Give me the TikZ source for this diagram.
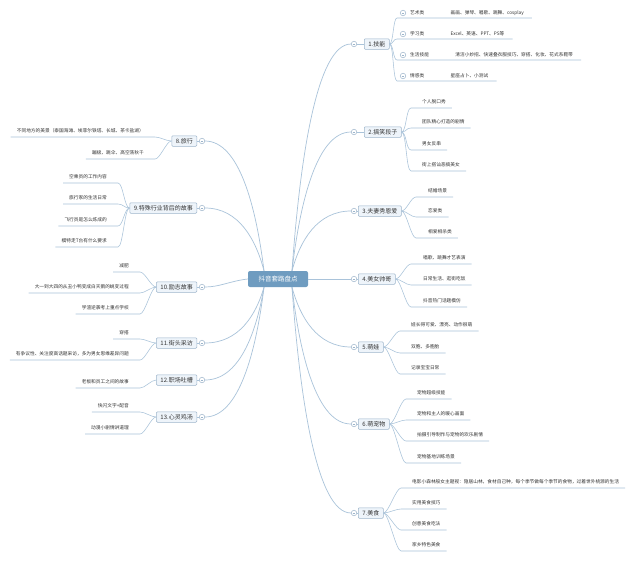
\documentclass[tikz,border=0pt]{standalone}
\usepackage{fontspec}
\setmainfont{Noto Sans CJK SC}
\usepackage{xcolor}
\usetikzlibrary{calc}
\definecolor{ctrblue}{HTML}{6F9CC0}
\definecolor{linecol}{HTML}{A9C3DA}
\definecolor{boxfill}{HTML}{EEF4FA}
\definecolor{boxline}{HTML}{9DB5CB}
\definecolor{inkgray}{HTML}{333333}

\begin{document}
\begin{tikzpicture}[x=1pt,y=-1pt,
    branch/.style={draw=linecol,line width=0.7pt},
    twig/.style={draw=linecol,line width=0.55pt},
    hub/.style={fill=ctrblue,text=white,rounded corners=2pt,minimum width=60pt,
      minimum height=16pt,inner sep=0pt,font=\fontsize{6.5}{7}\selectfont},
    topic/.style={draw=boxline,fill=boxfill,line width=0.5pt,rounded corners=1pt,
      minimum height=10.5pt,inner xsep=4pt,inner ysep=0pt,text=inkgray,
      font=\fontsize{6}{6}\selectfont},
    item/.style={inner sep=0pt,text=inkgray,font=\fontsize{4.7}{5}\selectfont},
    fold/.style={circle,draw=boxline,fill=white,line width=0.5pt,minimum size=5.5pt,
      inner sep=0pt,path picture={\draw[boxline,line width=0.4pt]
        ([xshift=-1.4pt]path picture bounding box.center) --
        ([xshift=1.4pt]path picture bounding box.center);}}
  ]
    \fill[white] (0,0) rectangle (640,560);

    % centre
    \node[hub] (ctr) at (278,279) {抖音套路盘点};

    % right topics
    \node[fold] (f1) at (354,44) {};
    \node[topic,anchor=west] (t1) at (364,44) {1.技能};
    \node[fold] (f2) at (354,132) {};
    \node[topic,anchor=west] (t2) at (364,132) {2.搞笑段子};
    \node[fold] (f3) at (354,211) {};
    \node[topic,anchor=west] (t3) at (358,211) {3.夫妻秀恩爱};
    \node[fold] (f4) at (354,279) {};
    \node[topic,anchor=west] (t4) at (358,279) {4.美女帅哥};
    \node[fold] (f5) at (354,347) {};
    \node[topic,anchor=west] (t5) at (358,347) {5.萌娃};
    \node[fold] (f6) at (354,424) {};
    \node[topic,anchor=west] (t6) at (358,424) {6.萌宠物};
    \node[fold] (f7) at (354,513) {};
    \node[topic,anchor=west] (t7) at (358,513) {7.美食};

    % left topics
    \node[fold] (f8) at (202,141) {};
    \node[topic,anchor=east] (t8) at (197,141) {8.旅行};
    \node[fold] (f9) at (202,208) {};
    \node[topic,anchor=east] (t9) at (197,208) {9.特殊行业背后的故事};
    \node[fold] (f10) at (202,287) {};
    \node[topic,anchor=east] (t10) at (197,287) {10.励志故事};
    \node[fold] (f11) at (202,343) {};
    \node[topic,anchor=east] (t11) at (197,343) {11.街头采访};
    \node[fold] (f12) at (202,380) {};
    \node[topic,anchor=east] (t12) at (197,380) {12.职场吐槽};
    \node[fold] (f13) at (202,417) {};
    \node[topic,anchor=east] (t13) at (197,417) {13.心灵鸡汤};

    % main branches
    \coordinate (ne) at ($(ctr.north)+(14,0)$);
    \coordinate (se) at ($(ctr.south)+(14,0)$);
    \coordinate (nw) at ($(ctr.north)+(-14,0)$);
    \coordinate (sw) at ($(ctr.south)+(-14,0)$);
    \draw[branch] (ne) .. controls (300,158) and (317,44) .. (f1.west);
    \draw[branch] (ne) .. controls (300,202) and (317,132) .. (f2.west);
    \draw[branch] (ne) .. controls (300,241) and (317,211) .. (f3.west);
    \draw[branch] (ctr.east) -- (f4.west);
    \draw[branch] (se) .. controls (300,317) and (317,347) .. (f5.west);
    \draw[branch] (se) .. controls (300,356) and (317,424) .. (f6.west);
    \draw[branch] (se) .. controls (300,400) and (317,513) .. (f7.west);
    \draw[branch] (nw) .. controls (256,206) and (239,141) .. (f8.east);
    \draw[branch] (nw) .. controls (256,240) and (239,208) .. (f9.east);
    \draw[branch] (ctr.west) .. controls (230,281) and (220,287) .. (f10.east);
    \draw[branch] (sw) .. controls (256,315) and (239,343) .. (f11.east);
    \draw[branch] (sw) .. controls (256,334) and (239,380) .. (f12.east);
    \draw[branch] (sw) .. controls (256,352) and (239,417) .. (f13.east);
    \foreach \k in {1,...,7} \draw[twig] (f\k) -- (t\k);
    \foreach \k in {8,...,13} \draw[twig] (f\k) -- (t\k);

    % 1 skills
    \foreach \i/\yy/\lbl/\txt in {1/13/艺术类/画画、弹琴、唱歌、跳舞、cosplay,
        2/34/学习类/Excel、英语、PPT、PS等,
        3/55/生活技能/清洁小妙招、快速叠衣服技巧、穿搭、化妆、花式系鞋带,
        4/76/情感类/星座占卜、小测试} {
      \node[fold] (s1f\i) at (403,\yy) {};
      \node[item,anchor=west] (s1l\i) at (410,\yy) {\lbl};
      \node[item,anchor=west] (s1d\i) at ($(s1l\i.east)+(26,0)$) {\txt};
      \draw[twig] (t1.east) .. controls +(4,0) and +(-4,0) .. ($(s1f\i)+(-6,5)$)
        -- ($(s1d\i.east)+(8,5)$);
    }

    % 2 jokes
    \foreach \i/\yy/\txt in {1/102/个人脱口秀,2/122/团队精心打造的剧情,
        3/144/男女反串,4/165/街上搭讪恶搞美女} {
      \node[item,anchor=west] (s2n\i) at (422,\yy) {\txt};
      \draw[twig] (t2.east) .. controls +(5,0) and +(-5,0) .. ($(s2n\i.west)+(-11,6)$)
        -- ($(s2n\i.east)+(6,6)$);
    }

    % 3 couples
    \foreach \i/\yy/\txt in {1/191/结婚场景,2/211/恋爱类,3/232/相爱相杀类} {
      \node[item,anchor=west] (s3n\i) at (428,\yy) {\txt};
      \draw[twig] (t3.east) .. controls +(5,0) and +(-5,0) .. ($(s3n\i.west)+(-12,6)$)
        -- ($(s3n\i.east)+(6,6)$);
    }

    % 4 beauties
    \foreach \i/\yy/\txt in {1/258/唱歌、跳舞才艺表演,2/279/日常生活、逛街吃饭,
        3/301/抖音热门话题模仿} {
      \node[item,anchor=west] (s4n\i) at (423,\yy) {\txt};
      \draw[twig] (t4.east) .. controls +(5,0) and +(-5,0) .. ($(s4n\i.west)+(-12,6)$)
        -- ($(s4n\i.east)+(6,6)$);
    }

    % 5 kids
    \foreach \i/\yy/\txt in {1/325/娃长得可爱、漂亮、动作很萌,2/347/双胞、多胞胎,
        3/368/记录宝宝日常} {
      \node[item,anchor=west] (s5n\i) at (411,\yy) {\txt};
      \draw[twig] (t5.east) .. controls +(5,0) and +(-5,0) .. ($(s5n\i.west)+(-11,6)$)
        -- ($(s5n\i.east)+(6,6)$);
    }

    % 6 pets
    \foreach \i/\yy/\txt in {1/393/宠物超级技能,2/414/宠物和主人的暖心画面,
        3/435/拍摄引导制作与宠物的欢乐剧情,4/457/宠物基地训练场景} {
      \node[item,anchor=west] (s6n\i) at (417,\yy) {\txt};
      \draw[twig] (t6.east) .. controls +(5,0) and +(-5,0) .. ($(s6n\i.west)+(-11,6)$)
        -- ($(s6n\i.east)+(6,6)$);
    }

    % 7 food
    \foreach \i/\yy/\txt in {1/482/电影小森林般女主题视：隐居山林，食材自己种，每个季节做每个季节的食物，过着世外桃源的生活,
        2/503/实用美食技巧,3/524/创意美食吃法,4/545/家乡特色美食} {
      \node[item,anchor=west] (s7n\i) at (412,\yy) {\txt};
      \draw[twig] (t7.east) .. controls +(5,0) and +(-5,0) .. ($(s7n\i.west)+(-11,6)$)
        -- ($(s7n\i.east)+(6,6)$);
    }

    % 8 travel
    \foreach \i/\yy/\txt in {1/131/不同地方的美景（泰国海滩、埃菲尔铁塔、长城、茶卡盐湖）,
        2/153/蹦极、跳伞、高空荡秋千} {
      \node[item,anchor=east] (s8n\i) at (144,\yy) {\txt};
      \draw[twig] (t8.west) .. controls +(-5,0) and +(5,0) .. ($(s8n\i.east)+(11,6)$)
        -- ($(s8n\i.west)+(-6,6)$);
    }

    % 9 trades
    \foreach \i/\yy/\txt in {1/177/空乘员的工作内容,2/198/旅行家的生活日常,
        3/220/飞行员是怎么炼成的,4/241/模特走T台有什么要求} {
      \node[item,anchor=east] (s9n\i) at (107,\yy) {\txt};
      \draw[twig] (t9.west) .. controls +(-5,0) and +(5,0) .. ($(s9n\i.east)+(11,6)$)
        -- ($(s9n\i.west)+(-6,6)$);
    }

    % 10 inspiration
    \foreach \i/\yy/\txt in {1/266/减肥,2/287/大一到大四的从丑小鸭变成白天鹅的蜕变过程,
        3/308/学渣逆袭考上重点学校} {
      \node[item,anchor=east] (s10n\i) at (129,\yy) {\txt};
      \draw[twig] (t10.west) .. controls +(-5,0) and +(5,0) .. ($(s10n\i.east)+(11,6)$)
        -- ($(s10n\i.west)+(-6,6)$);
    }

    % 11 street interviews
    \foreach \i/\yy/\txt in {1/333/穿搭,2/354/有争议性、关注度高话题采访，多为男女思维差异问题} {
      \node[item,anchor=east] (s11n\i) at (129,\yy) {\txt};
      \draw[twig] (t11.west) .. controls +(-5,0) and +(5,0) .. ($(s11n\i.east)+(11,6)$)
        -- ($(s11n\i.west)+(-6,6)$);
    }

    % 12 workplace
    \node[item,anchor=east] (s12n1) at (129,382) {老板和员工之间的故事};
    \draw[twig] (t12.west) .. controls +(-5,0) and +(5,0) .. ($(s12n1.east)+(11,6)$)
      -- ($(s12n1.west)+(-6,6)$);

    % 13 chicken soup
    \foreach \i/\yy/\txt in {1/406/快闪文字+配音,2/428/动漫小剧情讲道理} {
      \node[item,anchor=east] (s13n\i) at (129,\yy) {\txt};
      \draw[twig] (t13.west) .. controls +(-5,0) and +(5,0) .. ($(s13n\i.east)+(11,6)$)
        -- ($(s13n\i.west)+(-6,6)$);
    }
  \end{tikzpicture}
\end{document}
